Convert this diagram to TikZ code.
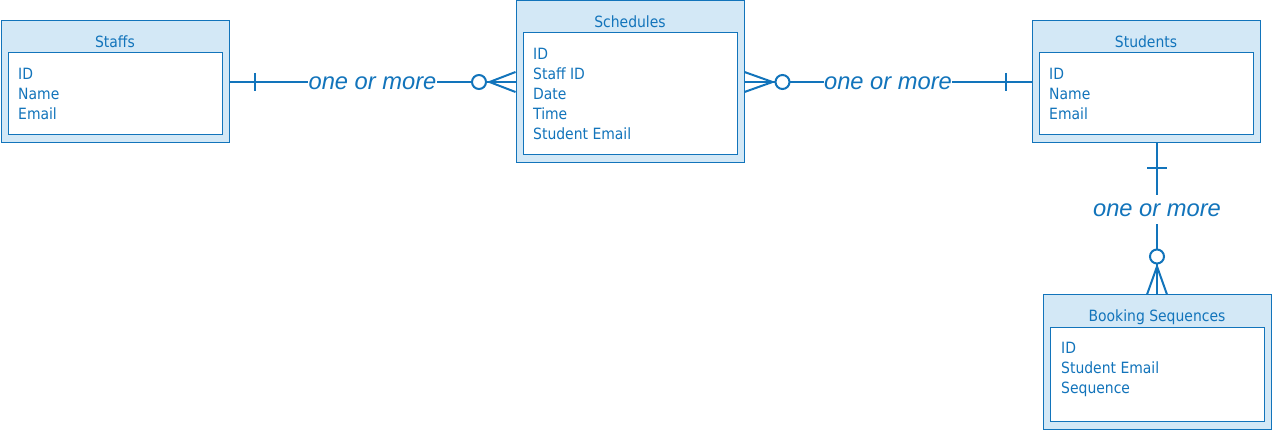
\documentclass[tikz,border=0pt]{standalone}
\usepackage{fontspec}
\newfontfamily\erfont{DejaVu Sans Condensed}
\newfontfamily\relfont{Liberation Sans}
\usepackage{xcolor}
\usepackage{tikz}
\usetikzlibrary{calc}
\definecolor{erblue}{RGB}{18,116,187}
\definecolor{erfill}{RGB}{211,232,246}

\begin{document}
\begin{tikzpicture}[
        x=1pt, y=-1pt,
        entity/.style={rectangle, draw=erblue, fill=erfill, line width=1pt, minimum width=228pt, inner sep=0pt},
        attrbox/.style={rectangle, draw=erblue, fill=white, line width=1pt, minimum width=214pt, inner sep=0pt},
        entitytitle/.style={font=\erfont\fontsize{15.5}{20}\selectfont, text=erblue, anchor=base, inner sep=0pt},
        attrlist/.style={font=\erfont\fontsize{15.5}{20}\selectfont, text=erblue, align=left, anchor=base west, inner sep=0pt},
        rel/.style={draw=erblue, line width=2pt},
        card/.style={font=\relfont\itshape\fontsize{23.7}{28}\selectfont, text=erblue, fill=white, inner xsep=0.5pt, inner ysep=8pt, yshift=-1.5pt}
    ]
    \useasboundingbox (0,0) rectangle (1274,430);

    % Entidades
    % Staffs
    \node[entity, minimum height=122pt] (staffs) at (115,82) {};
    \node[attrbox, minimum height=82pt] (staffsattr) at (115,94) {};
    \node[entitytitle] (staffstitle) at (115,48) {Staffs};
    \node[attrlist] (staffslist) at (18,120) {ID\\Name\\Email};

    % Schedules
    \node[entity, minimum height=162pt] (schedules) at (630,82) {};
    \node[attrbox, minimum height=122pt] (schedulesattr) at (630,94) {};
    \node[entitytitle] (schedulestitle) at (630,28) {Schedules};
    \node[attrlist] (scheduleslist) at (533,140) {ID\\Staff ID\\Date\\Time\\Student Email};

    % Students
    \node[entity, minimum height=122pt] (students) at (1146,82) {};
    \node[attrbox, minimum height=82pt] (studentsattr) at (1146,94) {};
    \node[entitytitle] (studentstitle) at (1146,48) {Students};
    \node[attrlist] (studentslist) at (1049,120) {ID\\Name\\Email};

    % Booking Sequences
    \node[entity, minimum height=134pt] (booking) at (1157,362) {};
    \node[attrbox, minimum height=94pt] (bookingattr) at (1157,374) {};
    \node[entitytitle] (bookingtitle) at (1157,321) {Booking Sequences};
    \node[attrlist] (bookinglist) at (1061,393) {ID\\Student Email\\Sequence};

    % Relaciones Staffs -> Schedules
    \draw[rel] (staffs.east) -- node[card] (staffscard) {one or more} (schedules.west);
    \draw[rel] ($(staffs.east)+(25,-9)$) -- ($(staffs.east)+(25,9)$);
    \draw[rel] ($(schedules.west)+(0,-10)$) -- ($(schedules.west)+(-26,0)$) -- ($(schedules.west)+(0,10)$);
    \draw[rel, fill=white] ($(schedules.west)+(-36.5,0)$) circle (7pt);

    % Relaciones Schedules -> Students
    \draw[rel] (schedules.east) -- node[card] (studentscard) {one or more} (students.west);
    \draw[rel] ($(schedules.east)+(0,-10)$) -- ($(schedules.east)+(28,0)$) -- ($(schedules.east)+(0,10)$);
    \draw[rel, fill=white] ($(schedules.east)+(38,0)$) circle (7pt);
    \draw[rel] ($(students.west)+(-26,-9)$) -- ($(students.west)+(-26,9)$);

    % Relaciones Students -> Booking Sequences
    \coordinate (studentsfoot) at (students.south -| booking.north);
    \draw[rel] (studentsfoot) -- node[card, pos=0.43] (bookingcard) {one or more} (booking.north);
    \draw[rel] ($(studentsfoot)+(-10,25)$) -- ($(studentsfoot)+(10,25)$);
    \draw[rel] ($(booking.north)+(-10,0)$) -- ($(booking.north)+(0,-28)$) -- ($(booking.north)+(10,0)$);
    \draw[rel, fill=white] ($(booking.north)+(0,-38)$) circle (7pt);

\end{tikzpicture}
\end{document}
